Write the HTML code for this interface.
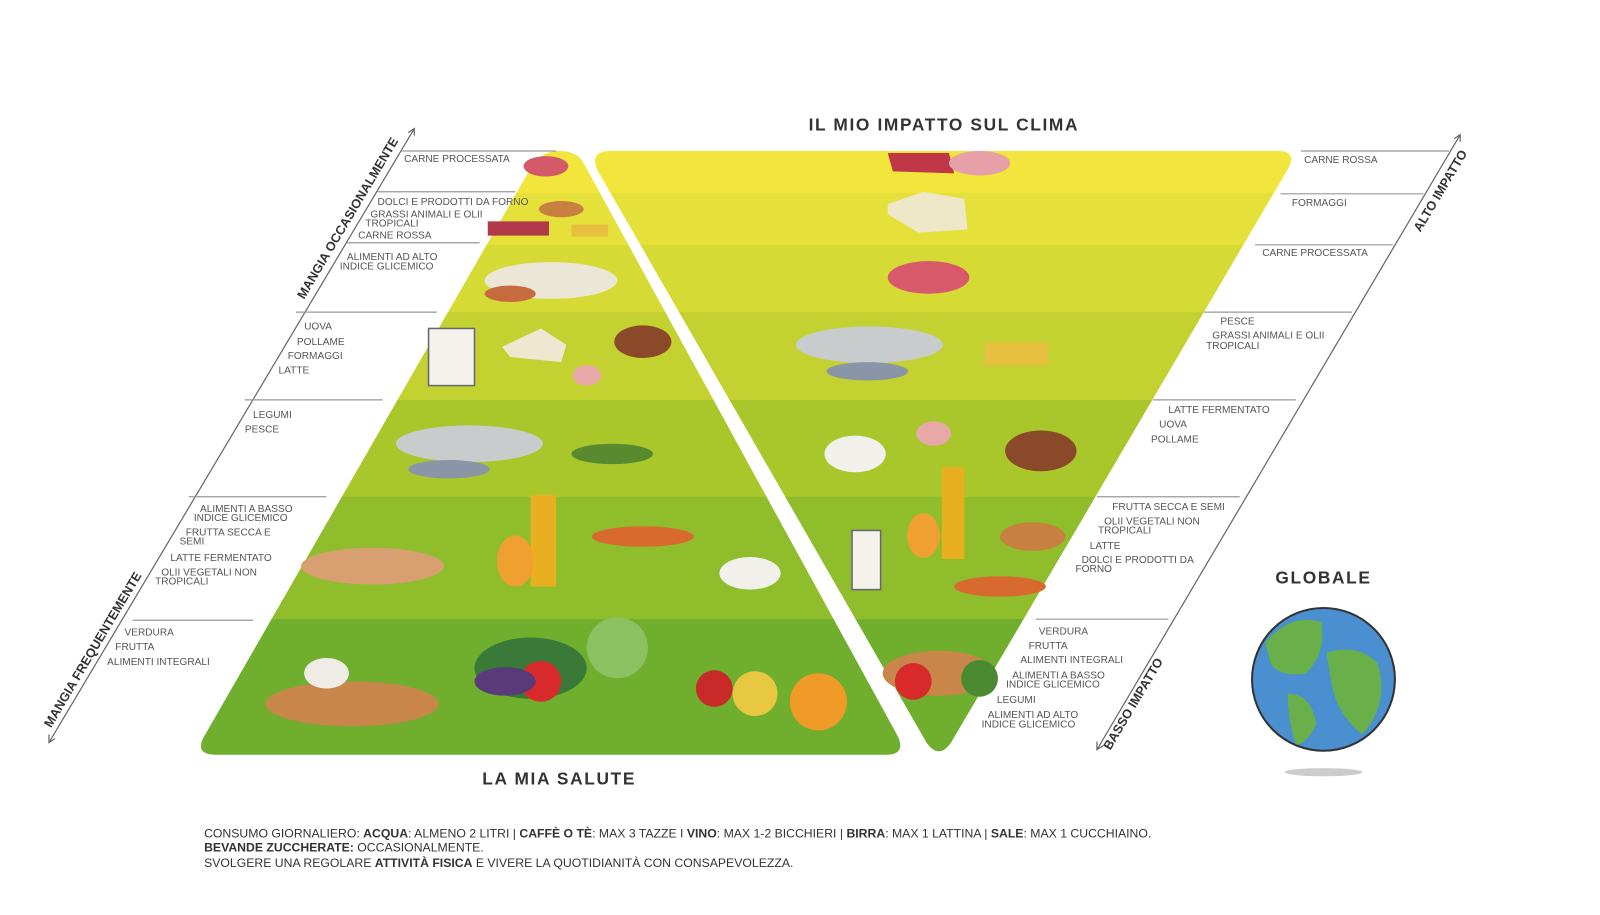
<!DOCTYPE html>
<html><head><meta charset="utf-8"><style>
html,body{margin:0;padding:0;background:#fff;}
svg{display:block;}
text{font-family:"Liberation Sans",sans-serif;}
.l{font-size:9.9px;fill:#555;}
.t{font-size:17px;font-weight:bold;fill:#333;letter-spacing:1.6px;}
.f{font-size:12px;fill:#333;}
.ln{stroke:#999;stroke-width:1.2;}
</style></head><body>
<svg width="1600" height="915" viewBox="0 0 1568 897" preserveAspectRatio="none" xmlns="http://www.w3.org/2000/svg">
<defs>
<clipPath id="cl"><path d="M520,165 Q530,148 548,148 Q566,148 572,160 L880,722 Q888,740 868,740 L212,740 Q190,740 200,722 Z"/></clipPath>
<clipPath id="cr"><path d="M598,148 L1252,148 Q1272,148 1262,166 L932,728 Q920,745 908,728 L585,166 Q578,148 598,148 Z"/></clipPath>
<g id="bands">
<rect x="0" y="140" width="1600" height="50" fill="#f2e63c"/>
<rect x="0" y="189" width="1600" height="52" fill="#e6e13a"/>
<rect x="0" y="240" width="1600" height="67" fill="#d5da35"/>
<rect x="0" y="306" width="1600" height="87" fill="#c3d230"/>
<rect x="0" y="392" width="1600" height="96" fill="#a9c72b"/>
<rect x="0" y="487" width="1600" height="121" fill="#8fbd2b"/>
<rect x="0" y="607" width="1600" height="140" fill="#70ae2e"/>
</g>
</defs>
<g clip-path="url(#cl)"><use href="#bands"/></g>
<g clip-path="url(#cr)"><use href="#bands"/></g>

<g>
<ellipse cx="535" cy="163" rx="22" ry="10" fill="#d45a6a"/>
<ellipse cx="550" cy="205" rx="22" ry="8" fill="#c88040"/>
<rect x="478" y="217" width="60" height="14" fill="#b03848"/>
<rect x="560" y="220" width="36" height="12" fill="#e8c040"/>
<ellipse cx="540" cy="275" rx="65" ry="18" fill="#ece6d6"/>
<ellipse cx="500" cy="288" rx="25" ry="8" fill="#c86a40"/>
<rect x="420" y="322" width="45" height="56" fill="#f4f2ea" stroke="#667" stroke-width="1.5"/>
<path d="M492,340 L530,322 L555,338 L550,355 L500,350 Z" fill="#efe8d0"/>
<ellipse cx="575" cy="368" rx="14" ry="10" fill="#e8a8a8"/>
<ellipse cx="630" cy="335" rx="28" ry="16" fill="#8a4a2a"/>
<ellipse cx="460" cy="435" rx="72" ry="18" fill="#c8cccc"/>
<ellipse cx="440" cy="460" rx="40" ry="9" fill="#8a96a8"/>
<ellipse cx="600" cy="445" rx="40" ry="10" fill="#5a8a30"/>
<ellipse cx="365" cy="555" rx="70" ry="18" fill="#d8a070"/>
<rect x="520" y="485" width="25" height="90" fill="#e8b020"/>
<ellipse cx="505" cy="550" rx="18" ry="25" fill="#f0a030"/>
<ellipse cx="630" cy="526" rx="50" ry="10" fill="#d86a30"/>
<ellipse cx="735" cy="562" rx="30" ry="16" fill="#f2f0ea"/>
<ellipse cx="345" cy="690" rx="85" ry="22" fill="#c8864a"/>
<ellipse cx="320" cy="660" rx="22" ry="15" fill="#efece6"/>
<ellipse cx="520" cy="655" rx="55" ry="30" fill="#3a7a38"/>
<ellipse cx="605" cy="635" rx="30" ry="30" fill="#8cc060"/>
<circle cx="530" cy="668" r="20" fill="#d82a2a"/>
<ellipse cx="495" cy="668" rx="30" ry="14" fill="#5a3a78"/>
<circle cx="802" cy="688" r="28" fill="#f09a28"/>
<circle cx="740" cy="680" r="22" fill="#e8c840"/>
<circle cx="700" cy="675" r="18" fill="#c82a2a"/>
</g>
<g>
<path d="M870,150 L930,150 L935,170 L875,168 Z" fill="#c03848"/>
<ellipse cx="960" cy="160" rx="30" ry="12" fill="#e8a0a8"/>
<path d="M870,200 L905,188 L945,195 L948,225 L900,228 L870,210 Z" fill="#efe8c8"/>
<ellipse cx="910" cy="272" rx="40" ry="16" fill="#d85a6a"/>
<ellipse cx="852" cy="338" rx="72" ry="18" fill="#c8cccc"/>
<ellipse cx="850" cy="364" rx="40" ry="9" fill="#8a96a8"/>
<rect x="965" y="336" width="62" height="22" fill="#e8c040"/>
<ellipse cx="838" cy="445" rx="30" ry="18" fill="#f2f0ea"/>
<ellipse cx="915" cy="425" rx="17" ry="12" fill="#e8a8a8"/>
<ellipse cx="1020" cy="442" rx="35" ry="20" fill="#8a4a2a"/>
<rect x="835" y="520" width="28" height="58" fill="#f4f2ea" stroke="#667" stroke-width="1.5"/>
<rect x="923" y="458" width="22" height="90" fill="#e8b020"/>
<ellipse cx="905" cy="525" rx="16" ry="22" fill="#f0a030"/>
<ellipse cx="1012" cy="526" rx="32" ry="14" fill="#c88040"/>
<ellipse cx="980" cy="575" rx="45" ry="10" fill="#d86a30"/>
<ellipse cx="920" cy="660" rx="55" ry="22" fill="#c8864a"/>
<circle cx="895" cy="668" r="18" fill="#d82a2a"/>
<ellipse cx="960" cy="665" rx="18" ry="18" fill="#4a8a30"/>
</g>

<g stroke="#666" stroke-width="1.2" fill="none">
<line x1="48" y1="728" x2="406" y2="126"/>
<path d="M400,130 L406,126 L406,133"/>
<path d="M48,720 L48,728 L54,724"/>
<line x1="1075" y1="735" x2="1431" y2="132"/>
<path d="M1425,136 L1431,132 L1431,139"/>
<path d="M1075,727 L1075,735 L1081,731"/>
</g>
<g class="ln">
<line x1="393" y1="148" x2="545" y2="148"/>
<line x1="370" y1="188" x2="505" y2="188"/>
<line x1="340" y1="238" x2="470" y2="238"/>
<line x1="290" y1="306" x2="428" y2="306"/>
<line x1="240" y1="392" x2="375" y2="392"/>
<line x1="185" y1="487" x2="320" y2="487"/>
<line x1="130" y1="608" x2="248" y2="608"/>
<line x1="1275" y1="148" x2="1420" y2="148"/>
<line x1="1255" y1="190" x2="1395" y2="190"/>
<line x1="1230" y1="240" x2="1365" y2="240"/>
<line x1="1180" y1="306" x2="1325" y2="306"/>
<line x1="1130" y1="392" x2="1270" y2="392"/>
<line x1="1075" y1="487" x2="1215" y2="487"/>
<line x1="1015" y1="607" x2="1145" y2="607"/>
</g>
<g class="l">
<text x="396" y="159">CARNE PROCESSATA</text>
<text x="370" y="201">DOLCI E PRODOTTI DA FORNO</text>
<text x="363" y="213">GRASSI ANIMALI E OLII</text>
<text x="358" y="222">TROPICALI</text>
<text x="351" y="234">CARNE ROSSA</text>
<text x="340" y="255">ALIMENTI AD ALTO</text>
<text x="333" y="264">INDICE GLICEMICO</text>
<text x="298" y="323">UOVA</text>
<text x="291" y="338">POLLAME</text>
<text x="282" y="352">FORMAGGI</text>
<text x="273" y="366">LATTE</text>
<text x="248" y="410">LEGUMI</text>
<text x="240" y="424">PESCE</text>
<text x="196" y="502">ALIMENTI A BASSO</text>
<text x="190" y="511">INDICE GLICEMICO</text>
<text x="182" y="525">FRUTTA SECCA E</text>
<text x="176" y="534">SEMI</text>
<text x="167" y="550">LATTE FERMENTATO</text>
<text x="158" y="564">OLII VEGETALI NON</text>
<text x="152" y="573">TROPICALI</text>
<text x="122" y="623">VERDURA</text>
<text x="113" y="637">FRUTTA</text>
<text x="105" y="652">ALIMENTI INTEGRALI</text>

<text x="1278" y="160">CARNE ROSSA</text>
<text x="1266" y="202">FORMAGGI</text>
<text x="1237" y="251">CARNE PROCESSATA</text>
<text x="1196" y="318">PESCE</text>
<text x="1188" y="332">GRASSI ANIMALI E  OLII</text>
<text x="1182" y="342">TROPICALI</text>
<text x="1145" y="405">LATTE FERMENTATO</text>
<text x="1136" y="419">UOVA</text>
<text x="1128" y="434">POLLAME</text>
<text x="1090" y="500">FRUTTA SECCA E SEMI</text>
<text x="1082" y="514">OLII VEGETALI NON</text>
<text x="1076" y="523">TROPICALI</text>
<text x="1068" y="538">LATTE</text>
<text x="1060" y="552">DOLCI E PRODOTTI DA</text>
<text x="1054" y="561">FORNO</text>
<text x="1018" y="622">VERDURA</text>
<text x="1008" y="636">FRUTTA</text>
<text x="1000" y="650">ALIMENTI INTEGRALI</text>
<text x="992" y="665">ALIMENTI A BASSO</text>
<text x="986" y="674">INDICE GLICEMICO</text>
<text x="977" y="689">LEGUMI</text>
<text x="968" y="704">ALIMENTI AD ALTO</text>
<text x="962" y="713">INDICE GLICEMICO</text>
</g>
<g style="font-size:12.5px;font-weight:bold;fill:#333;">
<text transform="translate(298,294) rotate(-59.3)">MANGIA OCCASIONALMENTE</text>
<text transform="translate(50,714) rotate(-59.3)">MANGIA FREQUENTEMENTE</text>
<text transform="translate(1392,228) rotate(-59.3)">ALTO IMPATTO</text>
<text transform="translate(1088,736) rotate(-59.3)">BASSO IMPATTO</text>
</g>
<text class="t" x="925" y="128" text-anchor="middle">IL MIO IMPATTO SUL CLIMA</text>
<text class="t" x="548" y="769" text-anchor="middle">LA MIA SALUTE</text>
<text class="t" x="1297" y="572" text-anchor="middle">GLOBALE</text>
<ellipse cx="1297" cy="757" rx="38" ry="4" fill="#ccc"/>
<circle cx="1297" cy="666" r="70" fill="#4a8fd0" stroke="#333" stroke-width="2"/>
<path d="M1240,630 Q1265,600 1295,610 Q1300,640 1280,660 Q1255,665 1245,650 Z" fill="#6ab04a"/>
<path d="M1300,640 Q1330,630 1350,650 Q1362,690 1335,720 Q1310,700 1305,670 Z" fill="#6ab04a"/>
<path d="M1262,680 Q1285,680 1290,710 Q1280,730 1270,730 Q1262,705 1262,680 Z" fill="#6ab04a"/>
<text class="f" x="200" y="821">CONSUMO GIORNALIERO: <tspan font-weight="bold">ACQUA</tspan>: ALMENO 2 LITRI | <tspan font-weight="bold">CAFFÈ O TÈ</tspan>: MAX 3 TAZZE I <tspan font-weight="bold">VINO</tspan>: MAX 1-2 BICCHIERI | <tspan font-weight="bold">BIRRA</tspan>: MAX 1 LATTINA | <tspan font-weight="bold">SALE</tspan>: MAX 1 CUCCHIAINO.</text>
<text class="f" x="200" y="835"><tspan font-weight="bold">BEVANDE ZUCCHERATE:</tspan> OCCASIONALMENTE.</text>
<text class="f" x="200" y="850">SVOLGERE UNA REGOLARE <tspan font-weight="bold">ATTIVITÀ FISICA</tspan> E VIVERE LA QUOTIDIANITÀ CON CONSAPEVOLEZZA.</text>
</svg>
</body></html>
